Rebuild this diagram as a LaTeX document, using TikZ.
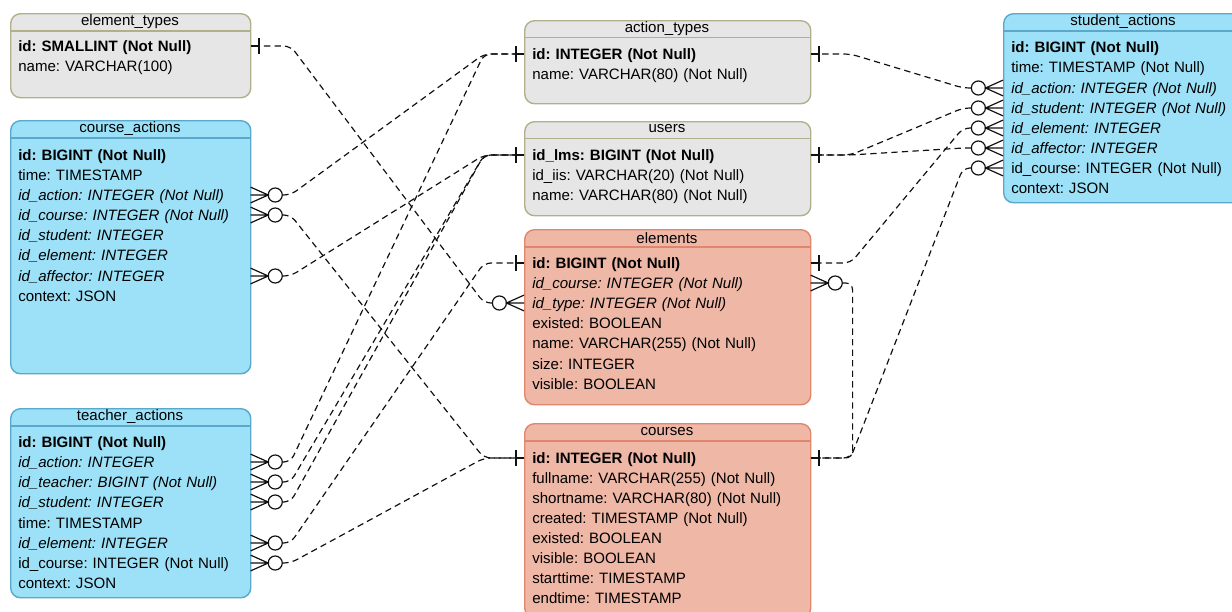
\documentclass[tikz,border=0pt]{standalone}
\usepackage{fontspec}
\setmainfont{Liberation Sans}
\usepackage{xcolor}
\usepackage{tikz}
\usetikzlibrary{arrows.meta,positioning,calc}
\definecolor{GreyFill}{HTML}{E6E6E6}
\definecolor{GreyLine}{HTML}{B2B08A}
\definecolor{BlueFill}{HTML}{9CE1F7}
\definecolor{BlueLine}{HTML}{5AA8CA}
\definecolor{RedFill}{HTML}{EEB7A6}
\definecolor{RedLine}{HTML}{E0866D}
\definecolor{Ink}{HTML}{111111}
\newcommand{\erfont}{\fontsize{10.7}{13}\selectfont}
\frenchspacing
\pgfdeclarearrow{
  name = ERmany,
  setup code = {
    \pgfarrowssettipend{0pt}
    \pgfarrowssetlineend{-22.5pt}
    \pgfarrowssetbackend{-22.5pt}
    \pgfarrowshullpoint{0pt}{5.6pt}
    \pgfarrowshullpoint{0pt}{-5.6pt}
    \pgfarrowshullpoint{-22.5pt}{0pt}
  },
  drawing code = {
    \pgfsetdash{}{0pt}
    \pgfpathmoveto{\pgfqpoint{0pt}{5.6pt}}
    \pgfpathlineto{\pgfqpoint{-12.5pt}{0pt}}
    \pgfpathlineto{\pgfqpoint{0pt}{-5.6pt}}
    \pgfpathmoveto{\pgfqpoint{0pt}{0pt}}
    \pgfpathlineto{\pgfqpoint{-12.5pt}{0pt}}
    \pgfusepathqstroke
    \pgfpathcircle{\pgfqpoint{-17.5pt}{0pt}}{5pt}
    \pgfusepathqstroke
  }
}
\pgfdeclarearrow{
  name = ERone,
  setup code = {
    \pgfarrowssettipend{0pt}
    \pgfarrowssetlineend{-5.7pt}
    \pgfarrowssetbackend{-5.7pt}
    \pgfarrowshullpoint{0pt}{0pt}
    \pgfarrowshullpoint{-5.7pt}{5.5pt}
    \pgfarrowshullpoint{-5.7pt}{-5.5pt}
  },
  drawing code = {
    \pgfsetdash{}{0pt}
    \pgfpathmoveto{\pgfqpoint{0pt}{0pt}}
    \pgfpathlineto{\pgfqpoint{-5.7pt}{0pt}}
    \pgfusepathqstroke
    \pgfsetlinewidth{1.3pt}
    \pgfpathmoveto{\pgfqpoint{-5.7pt}{5.5pt}}
    \pgfpathlineto{\pgfqpoint{-5.7pt}{-5.5pt}}
    \pgfusepathqstroke
  }
}

\begin{document}
\begin{tikzpicture}[x=0.025cm, y=-0.025cm,
  greytbl/.style={rectangle, rounded corners=7pt, draw=GreyLine, fill=GreyFill,
                  line width=1pt, anchor=north west, inner sep=0pt},
  bluetbl/.style={rectangle, rounded corners=7pt, draw=BlueLine, fill=BlueFill,
                  line width=1pt, anchor=north west, inner sep=0pt},
  redtbl/.style={rectangle, rounded corners=7pt, draw=RedLine, fill=RedFill,
                 line width=1pt, anchor=north west, inner sep=0pt},
  title/.style={font=\erfont, inner sep=0pt},
  row/.style={anchor=west, text width=#1, align=left, inner xsep=0.2cm, inner ysep=0pt,
              text height=9pt, text depth=1.5pt, font=\erfont},
  row/.default=5.6cm,
  pk/.style={row=#1, font=\erfont\bfseries},
  pk/.default=5.6cm,
  fk/.style={row=#1, font=\erfont\itshape},
  fk/.default=5.6cm,
  rel/.style={draw=Ink, line width=0.85pt, dash pattern=on 4.5pt off 3pt,
              rounded corners=5pt, ERmany-ERone}
]
\useasboundingbox (0,0) rectangle (1232,612);

\node[greytbl, minimum width=6cm, minimum height=2.1cm] (et) at (10,13) {};
\draw[GreyLine, line width=1pt] ([yshift=-0.45cm]et.north west) -- ([yshift=-0.45cm]et.north east);
\node[title] (et-title) at (130,22) {element\_types};
\node[pk] (et-id) at (10,46) {id: SMALLINT (Not Null)};
\node[row] (et-name) at (10,66) {name: VARCHAR(100)};

\node[bluetbl, minimum width=6cm, minimum height=6.325cm] (ca) at (10,120) {};
\draw[BlueLine, line width=1pt] ([yshift=-0.45cm]ca.north west) -- ([yshift=-0.45cm]ca.north east);
\node[title] (ca-title) at (130,129) {course\_actions};
\node[pk] (ca-id) at (10,155) {id: BIGINT (Not Null)};
\node[row] (ca-time) at (10,175) {time: TIMESTAMP};
\node[fk] (ca-act) at (10,195) {id\_action: INTEGER (Not Null)};
\node[fk] (ca-crs) at (10,215) {id\_course: INTEGER (Not Null)};
\node[fk] (ca-stu) at (10,235) {id\_student: INTEGER};
\node[fk] (ca-elm) at (10,255) {id\_element: INTEGER};
\node[fk] (ca-aff) at (10,276) {id\_affector: INTEGER};
\node[row] (ca-ctx) at (10,296) {context: JSON};

\node[bluetbl, minimum width=6cm, minimum height=4.725cm] (ta) at (10,408) {};
\draw[BlueLine, line width=1pt] ([yshift=-0.45cm]ta.north west) -- ([yshift=-0.45cm]ta.north east);
\node[title] (ta-title) at (130,417) {teacher\_actions};
\node[pk] (ta-id) at (10,442) {id: BIGINT (Not Null)};
\node[fk] (ta-act) at (10,462) {id\_action: INTEGER};
\node[fk] (ta-tch) at (10,482) {id\_teacher: BIGINT (Not Null)};
\node[fk] (ta-stu) at (10,502) {id\_student: INTEGER};
\node[row] (ta-time) at (10,523) {time: TIMESTAMP};
\node[fk] (ta-elm) at (10,543) {id\_element: INTEGER};
\node[row] (ta-crs) at (10,563) {id\_course: INTEGER (Not Null)};
\node[row] (ta-ctx) at (10,583) {context: JSON};

\node[greytbl, minimum width=7.15cm, minimum height=2.075cm] (at) at (524,20) {};
\draw[GreyLine, line width=1pt] ([yshift=-0.44cm]at.north west) -- ([yshift=-0.44cm]at.north east);
\node[title] (at-title) at (667,29) {action\_types};
\node[pk=6.75cm] (at-id) at (524,54) {id: INTEGER (Not Null)};
\node[row=6.75cm] (at-name) at (524,74) {name: VARCHAR(80) (Not Null)};

\node[greytbl, minimum width=7.15cm, minimum height=2.35cm] (us) at (524,121) {};
\draw[GreyLine, line width=1pt] ([yshift=-0.43cm]us.north west) -- ([yshift=-0.43cm]us.north east);
\node[title] (us-title) at (667,129) {users};
\node[pk=6.75cm] (us-id) at (524,155) {id\_lms: BIGINT (Not Null)};
\node[row=6.75cm] (us-iis) at (524,175) {id\_iis: VARCHAR(20) (Not Null)};
\node[row=6.75cm] (us-name) at (524,195) {name: VARCHAR(80) (Not Null)};

\node[redtbl, minimum width=7.15cm, minimum height=4.375cm] (el) at (524,229) {};
\draw[RedLine, line width=1pt] ([yshift=-0.45cm]el.north west) -- ([yshift=-0.45cm]el.north east);
\node[title] (el-title) at (667,238) {elements};
\node[pk=6.75cm] (el-id) at (524,263) {id: BIGINT (Not Null)};
\node[fk=6.75cm] (el-crs) at (524,283) {id\_course: INTEGER (Not Null)};
\node[fk=6.75cm] (el-type) at (524,303) {id\_type: INTEGER (Not Null)};
\node[row=6.75cm] (el-ex) at (524,323) {existed: BOOLEAN};
\node[row=6.75cm] (el-name) at (524,343) {name: VARCHAR(255) (Not Null)};
\node[row=6.75cm] (el-size) at (524,364) {size: INTEGER};
\node[row=6.75cm] (el-vis) at (524,384) {visible: BOOLEAN};

\node[redtbl, minimum width=7.15cm, minimum height=4.85cm] (cr) at (524,423) {};
\draw[RedLine, line width=1pt] ([yshift=-0.45cm]cr.north west) -- ([yshift=-0.45cm]cr.north east);
\node[title] (cr-title) at (667,432) {courses};
\node[pk=6.75cm] (cr-id) at (524,458) {id: INTEGER (Not Null)};
\node[row=6.75cm] (cr-full) at (524,478) {fullname: VARCHAR(255) (Not Null)};
\node[row=6.75cm] (cr-short) at (524,498) {shortname: VARCHAR(80) (Not Null)};
\node[row=6.75cm] (cr-crt) at (524,518) {created: TIMESTAMP (Not Null)};
\node[row=6.75cm] (cr-ex) at (524,538) {existed: BOOLEAN};
\node[row=6.75cm] (cr-vis) at (524,558) {visible: BOOLEAN};
\node[row=6.75cm] (cr-start) at (524,578) {starttime: TIMESTAMP};
\node[row=6.75cm] (cr-end) at (524,598) {endtime: TIMESTAMP};

\node[bluetbl, minimum width=6cm, minimum height=4.725cm] (sa) at (1003,13) {};
\draw[BlueLine, line width=1pt] ([yshift=-0.45cm]sa.north west) -- ([yshift=-0.45cm]sa.north east);
\node[title] (sa-title) at (1123,22) {student\_actions};
\node[pk] (sa-id) at (1003,47) {id: BIGINT (Not Null)};
\node[row] (sa-time) at (1003,67) {time: TIMESTAMP (Not Null)};
\node[fk] (sa-act) at (1003,88) {id\_action: INTEGER (Not Null)};
\node[fk] (sa-stu) at (1003,108) {id\_student: INTEGER (Not Null)};
\node[fk] (sa-elm) at (1003,128) {id\_element: INTEGER};
\node[fk] (sa-aff) at (1003,148) {id\_affector: INTEGER};
\node[row] (sa-crs) at (1003,168) {id\_course: INTEGER (Not Null)};
\node[row] (sa-ctx) at (1003,188) {context: JSON};

\draw[rel] (el-type.west) -- ++(-40,0) -- ([xshift=1cm]et-id.east) -- (et-id.east);
\draw[rel] (ca-act.east) -- ++(40,0) -- ([xshift=-1cm]at-id.west) -- (at-id.west);
\draw[rel] (ca-crs.east) -- ++(40,0) -- ([xshift=-1cm]cr-id.west) -- (cr-id.west);
\draw[rel] (ca-aff.east) -- ++(40,0) -- ([xshift=-1cm]us-id.west) -- (us-id.west);
\draw[rel] (ta-act.east) -- ++(40,0) -- ([xshift=-1cm]at-id.west) -- (at-id.west);
\draw[rel] (ta-tch.east) -- ++(40,0) -- ([xshift=-1cm]us-id.west) -- (us-id.west);
\draw[rel] (ta-stu.east) -- ++(40,0) -- ([xshift=-1cm]us-id.west) -- (us-id.west);
\draw[rel] (ta-elm.east) -- ++(40,0) -- ([xshift=-1cm]el-id.west) -- (el-id.west);
\draw[rel] (ta-crs.east) -- ++(40,0) -- ([xshift=-1cm]cr-id.west) -- (cr-id.west);
\draw[rel] (sa-act.west) -- ++(-40,0) -- ([xshift=1cm]at-id.east) -- (at-id.east);
\draw[rel] (sa-stu.west) -- ++(-40,0) -- ([xshift=1cm]us-id.east) -- (us-id.east);
\draw[rel] (sa-aff.west) -- ++(-40,0) -- ([xshift=1cm]us-id.east) -- (us-id.east);
\draw[rel] (sa-elm.west) -- ++(-40,0) -- ([xshift=1cm]el-id.east) -- (el-id.east);
\draw[rel] (el-crs.east) -- ++(42,0) |- (cr-id.east);
\draw[rel] (sa-crs.west) -- ++(-40,0) -- ([xshift=1cm]cr-id.east) -- (cr-id.east);
\end{tikzpicture}
\end{document}
